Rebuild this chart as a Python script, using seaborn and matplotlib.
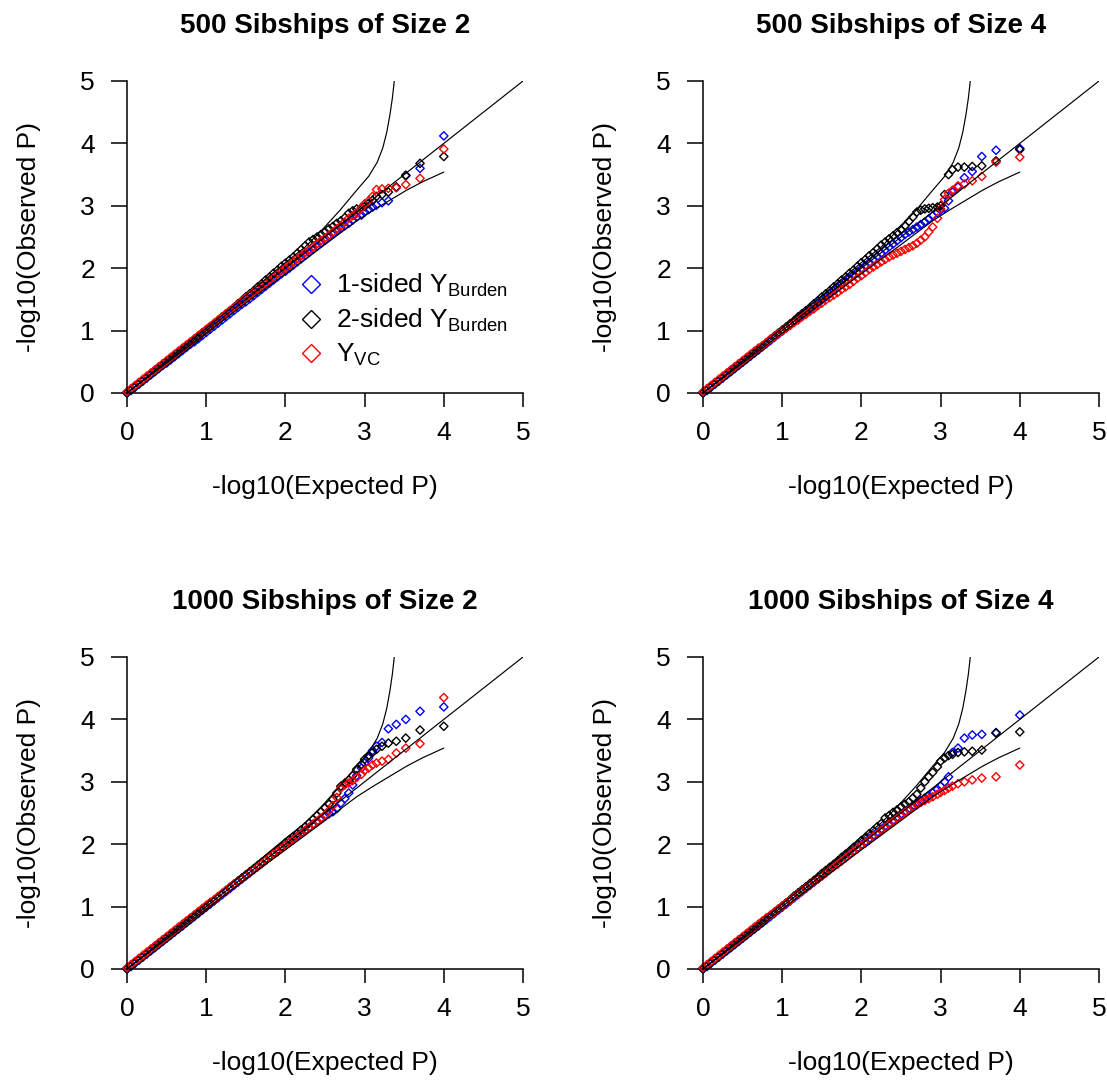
import matplotlib
matplotlib.use("Agg")
import matplotlib.pyplot as plt
import pandas as pd
import seaborn as sns
from matplotlib.lines import Line2D

# ---------------- data ----------------
titles = ["500 Sibships of Size 2", "500 Sibships of Size 4",
          "1000 Sibships of Size 2", "1000 Sibships of Size 4"]
series_names = ["1-sided $\\mathregular{Y_{Burden}}$",
                "2-sided $\\mathregular{Y_{Burden}}$",
                "$\\mathregular{Y_{VC}}$"]
series_colors = ["#0000FF", "#000000", "#FF0000"]

expected = [0.00, 0.05, 0.10, 0.15, 0.20, 0.25, 0.30, 0.35, 0.40, 0.45,
            0.50, 0.55, 0.60, 0.65, 0.70, 0.75, 0.80, 0.85, 0.90, 0.95,
            1.00, 1.05, 1.10, 1.15, 1.20, 1.25, 1.30, 1.35, 1.40, 1.45,
            1.50, 1.55, 1.60, 1.65, 1.70, 1.75, 1.80, 1.85, 1.90, 1.95,
            2.00, 2.05, 2.10, 2.15, 2.20, 2.25, 2.30, 2.35, 2.40, 2.45,
            2.50, 2.55, 2.60, 2.65, 2.70, 2.75, 2.80, 2.85, 2.90,
            2.96, 3.00, 3.05, 3.10, 3.15, 3.22, 3.30, 3.40, 3.52, 3.70, 4.00]

# Panel 1: 500 sibships of size 2
p1_one_sided = [0.00, 0.04, 0.09, 0.14, 0.19, 0.24, 0.29, 0.34, 0.39, 0.44,
                0.48, 0.53, 0.58, 0.63, 0.68, 0.73, 0.78, 0.82, 0.87, 0.92,
                0.97, 1.02, 1.07, 1.12, 1.17, 1.22, 1.27, 1.32, 1.37, 1.42,
                1.46, 1.51, 1.56, 1.61, 1.66, 1.71, 1.76, 1.81, 1.86, 1.91,
                1.95, 2.00, 2.05, 2.10, 2.15, 2.20, 2.25, 2.30, 2.35, 2.40,
                2.45, 2.50, 2.55, 2.60, 2.64, 2.68, 2.72, 2.77, 2.82,
                2.85, 2.90, 2.94, 2.98, 3.01, 3.05, 3.08, 3.30, 3.48, 3.60, 4.12]
p1_two_sided = [0.00, 0.05, 0.10, 0.15, 0.20, 0.25, 0.30, 0.35, 0.40, 0.45,
                0.50, 0.55, 0.60, 0.65, 0.70, 0.75, 0.80, 0.85, 0.90, 0.96,
                1.01, 1.06, 1.11, 1.16, 1.22, 1.27, 1.32, 1.37, 1.43, 1.48,
                1.54, 1.59, 1.64, 1.70, 1.75, 1.81, 1.86, 1.92, 1.97, 2.03,
                2.08, 2.13, 2.18, 2.24, 2.30, 2.36, 2.42, 2.46, 2.50, 2.54,
                2.58, 2.63, 2.67, 2.72, 2.76, 2.81, 2.88, 2.92, 2.95,
                2.97, 2.99, 3.04, 3.09, 3.15, 3.18, 3.22, 3.30, 3.49, 3.68, 3.79]
p1_vc = [0.02, 0.07, 0.12, 0.17, 0.22, 0.27, 0.32, 0.37, 0.42, 0.47,
         0.52, 0.57, 0.62, 0.67, 0.72, 0.77, 0.82, 0.87, 0.92, 0.97,
         1.02, 1.07, 1.12, 1.17, 1.22, 1.27, 1.32, 1.37, 1.42, 1.47,
         1.52, 1.57, 1.62, 1.66, 1.71, 1.76, 1.81, 1.86, 1.91, 1.96,
         2.00, 2.05, 2.10, 2.15, 2.20, 2.25, 2.29, 2.34, 2.39, 2.44,
         2.48, 2.53, 2.58, 2.63, 2.68, 2.74, 2.80, 2.84, 2.88,
         2.96, 3.03, 3.08, 3.15, 3.26, 3.27, 3.28, 3.29, 3.34, 3.44, 3.91]

# Panel 2: 500 sibships of size 4
p2_one_sided = [0.00, 0.04, 0.09, 0.14, 0.19, 0.24, 0.29, 0.34, 0.39, 0.44,
                0.49, 0.54, 0.59, 0.64, 0.69, 0.74, 0.79, 0.84, 0.89, 0.94,
                0.99, 1.04, 1.09, 1.14, 1.19, 1.24, 1.29, 1.34, 1.39, 1.44,
                1.49, 1.54, 1.59, 1.64, 1.69, 1.74, 1.79, 1.84, 1.89, 1.94,
                1.99, 2.04, 2.09, 2.14, 2.19, 2.24, 2.29, 2.34, 2.39, 2.44,
                2.49, 2.54, 2.58, 2.62, 2.66, 2.70, 2.74, 2.79, 2.84,
                2.89, 2.93, 2.96, 3.08, 3.22, 3.30, 3.45, 3.55, 3.79, 3.89, 3.92]
p2_two_sided = [0.00, 0.05, 0.10, 0.15, 0.20, 0.25, 0.30, 0.35, 0.40, 0.45,
                0.50, 0.55, 0.60, 0.65, 0.70, 0.75, 0.80, 0.86, 0.91, 0.96,
                1.01, 1.06, 1.11, 1.16, 1.22, 1.27, 1.32, 1.37, 1.43, 1.48,
                1.54, 1.59, 1.64, 1.70, 1.75, 1.81, 1.86, 1.92, 1.97, 2.03,
                2.09, 2.14, 2.20, 2.25, 2.31, 2.37, 2.42, 2.47, 2.52, 2.57,
                2.62, 2.68, 2.75, 2.82, 2.90, 2.93, 2.95, 2.96, 2.97,
                2.98, 3.00, 3.18, 3.50, 3.58, 3.62, 3.62, 3.63, 3.64, 3.72, 3.90]
p2_vc = [0.02, 0.07, 0.12, 0.17, 0.22, 0.27, 0.32, 0.37, 0.42, 0.47,
         0.52, 0.57, 0.62, 0.67, 0.72, 0.76, 0.81, 0.86, 0.90, 0.95,
         0.99, 1.04, 1.08, 1.13, 1.17, 1.22, 1.26, 1.31, 1.35, 1.40,
         1.44, 1.49, 1.53, 1.57, 1.61, 1.66, 1.70, 1.74, 1.79, 1.84,
         1.88, 1.93, 1.98, 2.02, 2.06, 2.10, 2.14, 2.18, 2.21, 2.24,
         2.27, 2.30, 2.33, 2.36, 2.40, 2.45, 2.50, 2.58, 2.66,
         2.80, 2.95, 3.10, 3.20, 3.25, 3.32, 3.35, 3.40, 3.47, 3.70, 3.78]

# Panel 3: 1000 sibships of size 2
p3_one_sided = [0.00, 0.04, 0.09, 0.14, 0.19, 0.24, 0.29, 0.34, 0.39, 0.44,
                0.49, 0.54, 0.59, 0.64, 0.69, 0.74, 0.79, 0.84, 0.89, 0.94,
                0.99, 1.04, 1.09, 1.14, 1.19, 1.24, 1.29, 1.34, 1.39, 1.44,
                1.49, 1.54, 1.59, 1.64, 1.69, 1.74, 1.79, 1.84, 1.89, 1.94,
                1.98, 2.03, 2.08, 2.13, 2.18, 2.22, 2.27, 2.32, 2.36, 2.41,
                2.45, 2.49, 2.52, 2.57, 2.66, 2.73, 2.82, 2.95, 3.10,
                3.22, 3.30, 3.38, 3.50, 3.57, 3.63, 3.85, 3.92, 4.00, 4.13, 4.20]
p3_two_sided = [0.00, 0.05, 0.10, 0.15, 0.20, 0.25, 0.30, 0.35, 0.40, 0.45,
                0.50, 0.55, 0.60, 0.65, 0.70, 0.75, 0.80, 0.85, 0.90, 0.95,
                1.00, 1.05, 1.10, 1.16, 1.21, 1.26, 1.31, 1.36, 1.41, 1.46,
                1.51, 1.56, 1.61, 1.66, 1.71, 1.76, 1.81, 1.86, 1.91, 1.96,
                2.02, 2.07, 2.12, 2.17, 2.23, 2.28, 2.34, 2.40, 2.46, 2.52,
                2.58, 2.64, 2.72, 2.82, 2.93, 2.98, 3.03, 3.10, 3.20,
                3.28, 3.36, 3.42, 3.47, 3.52, 3.57, 3.62, 3.65, 3.70, 3.83, 3.89]
p3_vc = [0.02, 0.07, 0.12, 0.17, 0.22, 0.27, 0.32, 0.37, 0.42, 0.47,
         0.52, 0.57, 0.62, 0.67, 0.72, 0.77, 0.82, 0.87, 0.92, 0.97,
         1.02, 1.07, 1.11, 1.16, 1.21, 1.26, 1.31, 1.36, 1.40, 1.45,
         1.50, 1.55, 1.60, 1.64, 1.69, 1.74, 1.79, 1.84, 1.88, 1.93,
         1.98, 2.03, 2.07, 2.12, 2.17, 2.22, 2.27, 2.32, 2.37, 2.42,
         2.47, 2.54, 2.62, 2.75, 2.90, 2.95, 2.98, 3.02, 3.07,
         3.12, 3.18, 3.22, 3.27, 3.30, 3.33, 3.36, 3.46, 3.54, 3.61, 4.35]

# Panel 4: 1000 sibships of size 4
p4_one_sided = [0.00, 0.04, 0.09, 0.14, 0.19, 0.24, 0.29, 0.34, 0.39, 0.44,
                0.49, 0.54, 0.59, 0.64, 0.69, 0.74, 0.79, 0.84, 0.89, 0.94,
                0.99, 1.04, 1.09, 1.14, 1.19, 1.24, 1.29, 1.34, 1.39, 1.44,
                1.49, 1.54, 1.59, 1.64, 1.69, 1.74, 1.79, 1.84, 1.89, 1.94,
                1.99, 2.04, 2.09, 2.14, 2.19, 2.24, 2.29, 2.33, 2.38, 2.43,
                2.48, 2.52, 2.57, 2.62, 2.66, 2.70, 2.74, 2.78, 2.82,
                2.88, 2.93, 3.00, 3.08, 3.47, 3.54, 3.70, 3.75, 3.76, 3.79, 4.07]
p4_two_sided = [0.00, 0.05, 0.10, 0.15, 0.20, 0.25, 0.30, 0.35, 0.40, 0.45,
                0.50, 0.55, 0.60, 0.65, 0.70, 0.75, 0.81, 0.86, 0.91, 0.96,
                1.01, 1.06, 1.11, 1.17, 1.22, 1.27, 1.32, 1.37, 1.42, 1.47,
                1.53, 1.58, 1.63, 1.68, 1.73, 1.79, 1.84, 1.89, 1.95, 2.00,
                2.06, 2.11, 2.17, 2.22, 2.28, 2.33, 2.42, 2.46, 2.51, 2.55,
                2.60, 2.64, 2.68, 2.74, 2.80, 2.90, 3.00, 3.08, 3.15,
                3.24, 3.33, 3.38, 3.42, 3.44, 3.47, 3.48, 3.49, 3.51, 3.78, 3.80]
p4_vc = [0.02, 0.07, 0.12, 0.17, 0.22, 0.27, 0.32, 0.37, 0.42, 0.47,
         0.52, 0.57, 0.62, 0.67, 0.72, 0.77, 0.82, 0.86, 0.91, 0.96,
         1.01, 1.06, 1.10, 1.15, 1.20, 1.25, 1.30, 1.35, 1.40, 1.44,
         1.49, 1.54, 1.59, 1.64, 1.68, 1.73, 1.78, 1.83, 1.88, 1.93,
         1.98, 2.02, 2.07, 2.12, 2.17, 2.22, 2.27, 2.32, 2.36, 2.41,
         2.46, 2.51, 2.55, 2.59, 2.63, 2.67, 2.70, 2.73, 2.76,
         2.80, 2.83, 2.86, 2.90, 2.93, 2.97, 3.00, 3.03, 3.06, 3.08, 3.27]

# 95% confidence band curves and identity line
upper_x = [0.00, 0.50, 1.00, 1.50, 2.00, 2.25, 2.46, 2.69, 2.90, 3.05, 3.16, 3.23, 3.28, 3.32, 3.35, 3.375]
upper_y = [0.00, 0.52, 1.04, 1.56, 2.09, 2.34, 2.61, 2.93, 3.25, 3.47, 3.70, 3.93, 4.18, 4.46, 4.72, 5.00]
lower_x = [0.00, 0.50, 1.00, 1.50, 2.00, 2.48, 2.69, 2.90, 3.11, 3.32, 3.53, 3.74, 4.00]
lower_y = [0.00, 0.48, 0.96, 1.44, 1.91, 2.36, 2.56, 2.76, 2.93, 3.09, 3.25, 3.39, 3.54]
diag_x = [0.0, 5.0]
diag_y = [0.0, 5.0]
tick_values = [0, 1, 2, 3, 4, 5]

panels = [
    (p1_one_sided, p1_two_sided, p1_vc),
    (p2_one_sided, p2_two_sided, p2_vc),
    (p3_one_sided, p3_two_sided, p3_vc),
    (p4_one_sided, p4_two_sided, p4_vc),
]

# ---------------- style ----------------
sns.set_style("ticks")
plt.rcParams['font.family'] = ['Liberation Sans', 'DejaVu Sans']
plt.rcParams['mathtext.default'] = 'regular'
plt.rcParams['text.color'] = 'black'
plt.rcParams['axes.labelcolor'] = 'black'
plt.rcParams['xtick.color'] = 'black'
plt.rcParams['ytick.color'] = 'black'

fig = plt.figure(figsize=(11.07, 10.87), dpi=100)
W, H = 1107.0, 1087.0
ax_w, ax_h = 396 / W, 312 / H
positions = [
    (127 / W, 1 - 393 / H),
    (703 / W, 1 - 393 / H),
    (127 / W, 1 - 969 / H),
    (703 / W, 1 - 969 / H),
]

for k, (title, vals, pos) in enumerate(zip(titles, panels, positions)):
    ax = fig.add_axes([pos[0], pos[1], ax_w, ax_h])
    for name, obs, col in zip(series_names, vals, series_colors):
        df = pd.DataFrame({"expected": expected, "observed": obs})
        sns.scatterplot(data=df, x="expected", y="observed", ax=ax,
                        marker="D", s=18, color=col, facecolor="none",
                        edgecolor=col, linewidth=1.0, clip_on=False,
                        legend=False, zorder=2)
    for lx, ly in [(upper_x, upper_y), (lower_x, lower_y), (diag_x, diag_y)]:
        sns.lineplot(x=lx, y=ly, ax=ax, color="black", linewidth=0.85,
                     sort=False, estimator=None, zorder=3)

    ax.set_xlim(0, 5)
    ax.set_ylim(0, 5)
    ax.set_xticks(tick_values)
    ax.set_yticks(tick_values)
    ax.set_xticklabels([str(t) for t in tick_values])
    ax.set_yticklabels([str(t) for t in tick_values])
    for s in ["top", "right"]:
        ax.spines[s].set_visible(False)
    for s in ["left", "bottom"]:
        ax.spines[s].set_linewidth(1.1)
        ax.spines[s].set_color("black")
    ax.tick_params(axis="x", direction="out", length=10.3, width=1.1,
                   pad=9.7, labelsize=19, colors="black")
    ax.tick_params(axis="y", direction="out", length=11.5, width=1.1,
                   pad=11.5, labelsize=19, colors="black")
    ax.set_xlabel("-log10(Expected P)", fontsize=19, labelpad=22, color="black")
    ax.set_ylabel("-log10(Observed P)", fontsize=19, labelpad=28, color="black")
    ax.set_title(title, fontsize=20, fontweight="bold", pad=34.6, color="black")
    ax.set_facecolor("white")

    if k == 0:
        handles = [Line2D([], [], marker="D", linestyle="none",
                          markerfacecolor="none", markeredgecolor=c,
                          markersize=8.7, markeredgewidth=1.0)
                   for c in series_colors]
        leg = ax.legend(handles, series_names, loc="center left",
                        bbox_to_anchor=(0.4316, 0.234), frameon=False,
                        fontsize=19, handlelength=1.0, handletextpad=0.45,
                        borderpad=0, borderaxespad=0, labelspacing=0.3)
        for t in leg.get_texts():
            t.set_color("black")

fig.savefig("out.png", dpi=100, facecolor="white")
